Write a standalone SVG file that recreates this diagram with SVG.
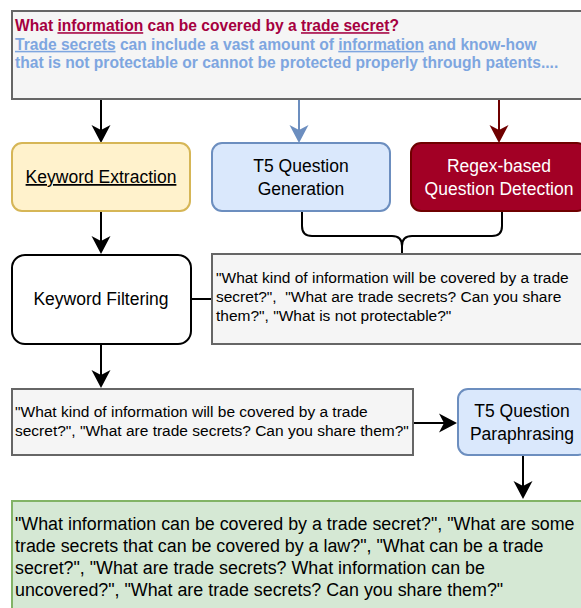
<svg xmlns="http://www.w3.org/2000/svg" width="581" height="608" viewBox="0 0 581 608">
<style>
text{font-family:"Liberation Sans",Arial,Helvetica,sans-serif;}
.gray{fill:#f5f5f5;stroke:#666666;stroke-width:2;}
.yel{fill:#fff2cc;stroke:#d6b656;stroke-width:2;}
.blue{fill:#dae8fc;stroke:#6c8ebf;stroke-width:2;}
.red{fill:#a20025;stroke:#6f0000;stroke-width:2;}
.wht{fill:#ffffff;stroke:#000000;stroke-width:2;}
.grn{fill:#d5e8d4;stroke:#82b366;stroke-width:2;}
.lbl{font-size:17.5px;fill:#000;text-anchor:middle;}
.wlbl{font-size:17.5px;fill:#fff;text-anchor:middle;}
.gt{font-size:15.5px;fill:#000;white-space:pre;}
.grt{font-size:17.85px;fill:#000;}
.q{font-size:15.6px;font-weight:bold;fill:#a50040;}
.a{font-size:15.6px;font-weight:bold;fill:#7ea6e0;}
.c{fill:none;stroke-width:2;}
</style>
<defs>
<marker id="ak" markerUnits="userSpaceOnUse" viewBox="-6 -10 20 20" refX="0" refY="0" markerWidth="20" markerHeight="20" orient="auto"><path d="M13,0 L-5,-9.5 L0,0 L-5,9.5 Z" fill="#000"/></marker>
<marker id="ab" markerUnits="userSpaceOnUse" viewBox="-6 -10 20 20" refX="0" refY="0" markerWidth="20" markerHeight="20" orient="auto"><path d="M13,0 L-5,-9.5 L0,0 L-5,9.5 Z" fill="#6c8ebf"/></marker>
<marker id="ar" markerUnits="userSpaceOnUse" viewBox="-6 -10 20 20" refX="0" refY="0" markerWidth="20" markerHeight="20" orient="auto"><path d="M13,0 L-5,-9.5 L0,0 L-5,9.5 Z" fill="#6f0000"/></marker>
</defs>

<g id="connectors">
<line class="c" x1="101" y1="99" x2="101" y2="130" stroke="#000" marker-end="url(#ak)"/>
<line class="c" x1="299" y1="99" x2="299" y2="130" stroke="#6c8ebf" marker-end="url(#ab)"/>
<line class="c" x1="499" y1="99" x2="499" y2="130" stroke="#6f0000" marker-end="url(#ar)"/>
<line class="c" x1="101" y1="211" x2="101" y2="241" stroke="#000" marker-end="url(#ak)"/>
<line class="c" x1="101" y1="344" x2="101" y2="375" stroke="#000" marker-end="url(#ak)"/>
<line class="c" x1="413" y1="423" x2="444" y2="423" stroke="#000" marker-end="url(#ak)"/>
<line class="c" x1="523" y1="455" x2="523" y2="486" stroke="#000" marker-end="url(#ak)"/>
<line class="c" x1="191" y1="299" x2="212" y2="299" stroke="#000"/>
<path class="c" stroke="#000" d="M302,211 V226 Q302,236 312,236 H392 Q402,236 402,246 V254 M502,211 V226 Q502,236 492,236 H412 Q402,236 402,246"/>
</g>

<g id="source">
<rect class="gray" x="12" y="11" width="600" height="88"/>
<text x="15" y="31.2" class="q">What <tspan text-decoration="underline">information</tspan> can be covered by a <tspan text-decoration="underline">trade secret</tspan>?</text>
<text x="15" y="49.8" class="a"><tspan text-decoration="underline">Trade secrets</tspan> can include a vast amount of <tspan text-decoration="underline">information</tspan> and know-how</text>
<text x="15" y="68.4" class="a">that is not protectable or cannot be protected properly through patents....</text>
</g>

<g id="keyword-extraction">
<rect class="yel" x="12" y="143" width="178" height="68" rx="10"/>
<text x="101" y="183" class="lbl" text-decoration="underline">Keyword Extraction</text>
</g>

<g id="t5-generation">
<rect class="blue" x="212" y="143" width="178" height="68" rx="10"/>
<text x="301" y="171.5" class="lbl">T5 Question</text>
<text x="301" y="194.5" class="lbl">Generation</text>
</g>

<g id="regex-detection">
<rect class="red" x="411" y="143" width="176" height="68" rx="10"/>
<text x="499" y="171.5" class="wlbl">Regex-based</text>
<text x="499" y="194.5" class="wlbl">Question Detection</text>
</g>

<g id="keyword-filtering">
<rect class="wht" x="12" y="255" width="179" height="89" rx="13"/>
<text x="101" y="305" class="lbl">Keyword Filtering</text>
</g>

<g id="candidates">
<rect class="gray" x="212" y="254" width="400" height="90"/>
<text x="216" y="283" class="gt">"What kind of information will be covered by a trade</text>
<text x="216" y="302" class="gt">secret?",  "What are trade secrets? Can you share</text>
<text x="216" y="321" class="gt">them?", "What is not protectable?"</text>
</g>

<g id="filtered">
<rect class="gray" x="12" y="389" width="401" height="66"/>
<text x="15" y="417" class="gt">"What kind of information will be covered by a trade</text>
<text x="15" y="436" class="gt">secret?", "What are trade secrets? Can you share them?"</text>
</g>

<g id="t5-paraphrasing">
<rect class="blue" x="458" y="389" width="130" height="66" rx="10"/>
<text x="522" y="416.5" class="lbl">T5 Question</text>
<text x="522" y="440" class="lbl">Paraphrasing</text>
</g>

<g id="output">
<rect class="grn" x="12" y="501" width="600" height="120"/>
<text x="15" y="529.8" class="grt">"What information can be covered by a trade secret?", "What are some</text>
<text x="15" y="552" class="grt">trade secrets that can be covered by a law?", "What can be a trade</text>
<text x="15" y="574" class="grt">secret?", "What are trade secrets? What information can be</text>
<text x="15" y="596" class="grt">uncovered?", "What are trade secrets? Can you share them?"</text>
</g>
</svg>
